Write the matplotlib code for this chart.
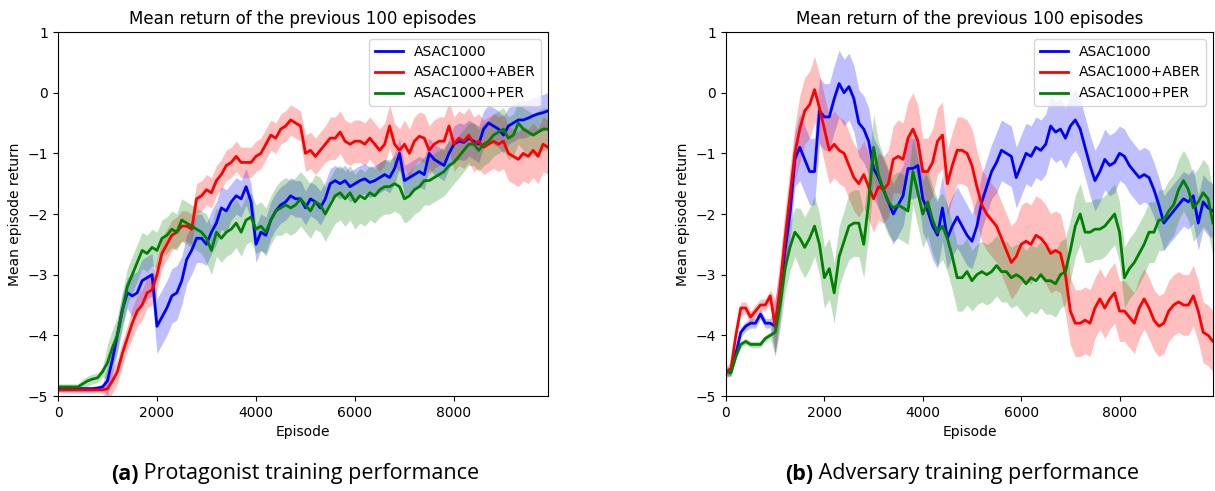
import numpy as np
import matplotlib
matplotlib.use("Agg")
import matplotlib.pyplot as plt

# episodes (every 100) and mean return of the previous 100 episodes
episodes = np.arange(0, 10000, 100)

# (a) protagonist
prot_asac = [
    -4.88, -4.88, -4.88, -4.88, -4.88, -4.88, -4.88, -4.88, -4.87, -4.85,
    -4.75, -4.4, -4.0, -3.58, -3.3, -3.35, -3.3, -3.1, -3.05, -3.0,
    -3.85, -3.7, -3.55, -3.35, -3.3, -3.1, -2.75, -2.6, -2.4, -2.4,
    -2.5, -2.3, -2.15, -1.9, -1.95, -1.8, -1.7, -1.75, -1.55, -1.8,
    -2.5, -2.3, -2.35, -2.1, -1.95, -1.85, -1.8, -1.7, -1.75, -1.75,
    -1.9, -1.75, -1.8, -1.9, -1.75, -1.5, -1.45, -1.5, -1.45, -1.55,
    -1.5, -1.45, -1.42, -1.48, -1.45, -1.4, -1.35, -1.4, -1.25, -1.0,
    -1.45, -1.4, -1.35, -1.3, -1.35, -1.0, -1.1, -1.15, -1.2, -1.0,
    -0.85, -0.8, -0.82, -0.75, -0.8, -0.85, -0.6, -0.5, -0.55, -0.6,
    -0.7, -0.55, -0.5, -0.45, -0.45, -0.42, -0.38, -0.35, -0.33, -0.3,
]
prot_aber = [
    -4.9, -4.9, -4.9, -4.9, -4.9, -4.9, -4.9, -4.9, -4.9, -4.9,
    -4.88, -4.75, -4.6, -4.3, -4.05, -3.8, -3.6, -3.5, -3.3, -3.25,
    -3.0, -2.65, -2.5, -2.35, -2.3, -2.2, -2.2, -2.25, -1.75, -1.7,
    -1.6, -1.65, -1.45, -1.35, -1.2, -1.15, -1.05, -1.15, -1.15, -1.15,
    -1.05, -1.0, -0.85, -0.7, -0.75, -0.6, -0.55, -0.45, -0.5, -0.55,
    -1.0, -0.95, -1.05, -0.95, -0.85, -0.75, -0.75, -0.65, -0.8, -0.85,
    -0.8, -0.8, -0.85, -0.75, -0.85, -0.95, -0.85, -0.55, -0.85, -0.95,
    -0.85, -1.0, -0.8, -0.72, -0.75, -0.95, -0.85, -0.8, -0.8, -0.55,
    -0.85, -0.75, -0.8, -0.7, -0.85, -0.8, -0.9, -0.85, -0.8, -0.85,
    -0.8, -1.0, -1.05, -1.1, -1.0, -1.05, -0.95, -1.05, -0.85, -0.9,
]
prot_per = [
    -4.85, -4.85, -4.85, -4.85, -4.85, -4.8, -4.75, -4.72, -4.7, -4.6,
    -4.45, -4.2, -4.0, -3.6, -3.2, -3.0, -2.8, -2.6, -2.65, -2.55,
    -2.6, -2.4, -2.35, -2.25, -2.3, -2.1, -2.15, -2.2, -2.25, -2.3,
    -2.4, -2.6, -2.3, -2.4, -2.3, -2.25, -2.15, -2.3, -2.1, -2.05,
    -2.25, -2.2, -2.3, -2.1, -1.95, -1.9, -1.85, -1.9, -1.85, -1.75,
    -1.85, -1.95, -1.8, -1.85, -2.0, -1.85, -1.7, -1.65, -1.75, -1.65,
    -1.8, -1.7, -1.75, -1.65, -1.7, -1.6, -1.55, -1.55, -1.5, -1.55,
    -1.75, -1.7, -1.6, -1.55, -1.45, -1.45, -1.4, -1.35, -1.3, -1.2,
    -1.15, -1.05, -0.95, -0.85, -0.85, -0.95, -0.85, -0.8, -0.7, -0.65,
    -0.6, -0.75, -0.7, -0.5, -0.6, -0.65, -0.7, -0.65, -0.6, -0.6,
]
# band half-widths per block of 500 episodes
prot_asac_sd = [0.04, 0.04, 0.25, 0.35, 0.45, 0.4, 0.35, 0.3, 0.3, 0.3,
                0.28, 0.25, 0.25, 0.25, 0.25, 0.25, 0.3, 0.3, 0.3, 0.3]
prot_aber_sd = [0.05, 0.05, 0.2, 0.25, 0.25, 0.25, 0.25, 0.25, 0.25, 0.25,
                0.3, 0.35, 0.35, 0.35, 0.4, 0.4, 0.45, 0.45, 0.45, 0.45]
prot_per_sd = [0.05, 0.08, 0.3, 0.3, 0.3, 0.35, 0.4, 0.4, 0.4, 0.45,
               0.45, 0.45, 0.45, 0.45, 0.4, 0.4, 0.35, 0.35, 0.35, 0.35]

# (b) adversary
adv_asac = [
    -4.6, -4.6, -4.3, -3.95, -3.85, -3.8, -3.8, -3.65, -3.8, -3.8,
    -3.85, -3.3, -2.6, -2.0, -1.1, -0.9, -1.1, -1.3, -1.3, -0.3,
    -0.4, -0.4, -0.1, 0.15, 0.0, 0.1, -0.1, -0.5, -0.6, -0.8,
    -1.25, -1.4, -1.6, -1.8, -2.0, -1.85, -1.7, -1.25, -1.25, -1.2,
    -1.75, -1.95, -2.2, -2.35, -1.9, -2.4, -2.2, -2.05, -2.2, -2.35,
    -2.45, -2.2, -1.8, -1.55, -1.3, -1.15, -0.95, -1.0, -1.05, -1.4,
    -1.2, -1.0, -1.05, -0.9, -0.95, -0.85, -0.55, -0.65, -0.6, -0.75,
    -0.55, -0.45, -0.6, -0.9, -1.2, -1.45, -1.3, -1.1, -1.2, -1.15,
    -1.0, -1.05, -1.2, -1.3, -1.4, -1.35, -1.4, -1.6, -1.85, -2.15,
    -2.05, -1.95, -1.85, -1.75, -1.8, -1.7, -2.15, -1.8, -1.9, -1.95,
]
adv_aber = [
    -4.6, -4.55, -4.0, -3.55, -3.55, -3.7, -3.6, -3.5, -3.5, -3.35,
    -3.85, -3.2, -2.4, -1.7, -1.0, -0.6, -0.3, -0.2, 0.05, -0.25,
    -0.6, -0.95, -0.85, -0.95, -1.0, -1.2, -1.4, -1.5, -1.35, -1.55,
    -1.75, -1.55, -1.6, -1.5, -1.1, -1.05, -1.1, -0.75, -0.6, -0.8,
    -1.3, -1.3, -1.15, -0.8, -0.7, -1.5, -1.2, -0.95, -0.95, -1.0,
    -1.2, -1.55, -1.85, -2.0, -2.1, -2.2, -2.4, -2.6, -2.8, -2.7,
    -2.5, -2.45, -2.5, -2.35, -2.4, -2.5, -2.65, -2.6, -2.65, -3.0,
    -3.6, -3.8, -3.8, -3.75, -3.8, -3.55, -3.4, -3.55, -3.4, -3.3,
    -3.6, -3.6, -3.7, -3.8, -3.55, -3.4, -3.55, -3.75, -3.85, -3.8,
    -3.6, -3.5, -3.45, -3.5, -3.5, -3.35, -3.6, -3.95, -4.0, -4.1,
]
adv_per = [
    -4.6, -4.62, -4.35, -4.15, -4.1, -4.15, -4.15, -4.15, -4.05, -4.0,
    -3.95, -3.5, -2.9, -2.55, -2.3, -2.4, -2.55, -2.4, -2.2, -2.5,
    -3.05, -2.9, -3.3, -2.7, -2.45, -2.2, -2.15, -2.15, -2.5, -1.8,
    -0.9, -1.35, -1.6, -1.8, -1.9, -1.85, -1.9, -1.95, -1.3, -1.65,
    -2.0, -1.8, -2.1, -2.3, -2.2, -2.4, -2.7, -3.05, -3.05, -2.95,
    -3.1, -3.0, -2.95, -3.0, -2.95, -2.85, -2.95, -2.95, -3.05, -3.0,
    -3.05, -3.15, -3.05, -3.1, -3.0, -3.1, -3.1, -3.15, -3.0, -2.95,
    -2.6, -2.2, -2.0, -2.3, -2.3, -2.25, -2.25, -2.2, -2.1, -2.0,
    -2.3, -3.05, -2.9, -2.8, -2.65, -2.5, -2.3, -2.3, -2.1, -2.1,
    -1.95, -1.85, -1.6, -1.45, -1.6, -1.9, -1.8, -1.65, -1.75, -2.15,
]
adv_asac_sd = [0.08, 0.08, 0.45, 0.55, 0.55, 0.55, 0.5, 0.5, 0.55, 0.5,
               0.45, 0.5, 0.5, 0.5, 0.5, 0.5, 0.45, 0.45, 0.45, 0.45]
adv_aber_sd = [0.1, 0.1, 0.45, 0.55, 0.55, 0.55, 0.55, 0.6, 0.55, 0.55,
               0.6, 0.6, 0.65, 0.65, 0.55, 0.5, 0.5, 0.5, 0.5, 0.5]
adv_per_sd = [0.05, 0.05, 0.4, 0.5, 0.5, 0.55, 0.55, 0.55, 0.55, 0.55,
              0.5, 0.5, 0.55, 0.55, 0.5, 0.5, 0.5, 0.5, 0.5, 0.55]

labels = ["ASAC1000", "ASAC1000+ABER", "ASAC1000+PER"]
colors = ["blue", "red", "green"]
captions = [("(a)", "Protagonist training performance"),
            ("(b)", "Adversary training performance")]

fig = plt.figure(figsize=(12.15, 4.91), dpi=100)
W, H = 1215, 491
ax_a = fig.add_axes([58 / W, 95 / H, 490 / W, 364 / H])
ax_b = fig.add_axes([726 / W, 95 / H, 487 / W, 364 / H])

panels = [
    (ax_a, [prot_asac, prot_aber, prot_per], [prot_asac_sd, prot_aber_sd, prot_per_sd]),
    (ax_b, [adv_asac, adv_aber, adv_per], [adv_asac_sd, adv_aber_sd, adv_per_sd]),
]

for ax, means, sds in panels:
    for mean, sd, lab, col in zip(means, sds, labels, colors):
        mean = np.array(mean)
        sd = np.repeat(sd, 5)
        ax.fill_between(episodes, mean - sd, mean + sd, color=col, alpha=0.25, lw=0)
        ax.plot(episodes, mean, color=col, lw=2.0, label=lab)
    ax.set_xlim(0, 9900)
    ax.set_ylim(-5, 1)
    ax.set_xticks([0, 2000, 4000, 6000, 8000])
    ax.set_yticks([-5, -4, -3, -2, -1, 0, 1])
    ax.set_xlabel("Episode")
    ax.set_ylabel("Mean episode return")
    ax.set_title("Mean return of the previous 100 episodes")
    ax.legend(loc="upper right")

# captions below each panel: bold tag + regular text, centred together
renderer = fig.canvas.get_renderer()
for (tag, text), cx in zip(captions, [295 / W, 962 / W]):
    t1 = fig.text(0, 17 / H, tag, fontsize=15.5, fontweight="bold",
                  family="Open Sans", va="center")
    t2 = fig.text(0, 17 / H, " " + text, fontsize=15.5,
                  family="Open Sans", va="center")
    w1 = t1.get_window_extent(renderer).width / W
    w2 = t2.get_window_extent(renderer).width / W
    x0 = cx - (w1 + w2) / 2
    t1.set_x(x0)
    t2.set_x(x0 + w1)

fig.savefig("out.png", dpi=100)
